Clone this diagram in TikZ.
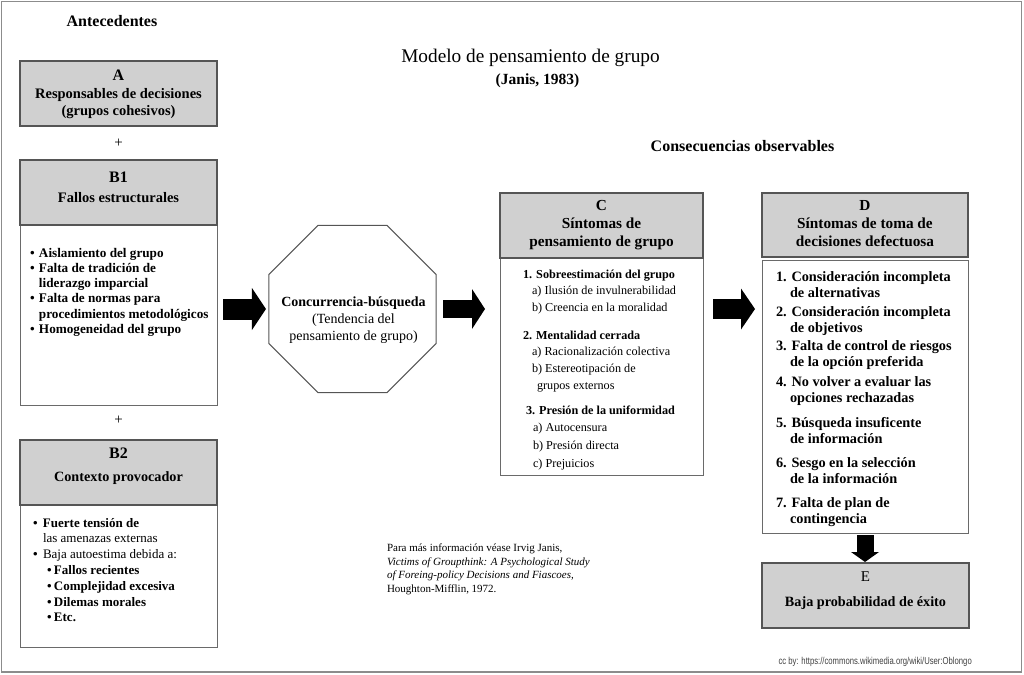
\documentclass[tikz,border=0pt]{standalone}
\usepackage{fontspec}
\setmainfont{Liberation Serif}
\newfontfamily\credfont{Liberation Sans}
\usetikzlibrary{shapes.geometric,arrows.meta}
\definecolor{hdrgrey}{HTML}{D0D0D0}
\definecolor{edgegrey}{HTML}{555555}
\definecolor{bodyedge}{HTML}{6A6A6A}
\definecolor{framegrey}{HTML}{8C8C8C}
\definecolor{credgrey}{HTML}{404040}
\newcommand{\fs}[2]{\fontsize{#1}{#2}\selectfont}
\newcommand{\ltab}[1]{\begin{tabular}[t]{@{}l@{}}#1\end{tabular}}
\newcommand{\ctab}[1]{\begin{tabular}[t]{@{}c@{}}#1\end{tabular}}
\newcommand{\bul}[1]{\makebox[#1pt][l]{\textbullet}}
\newcommand{\ind}[1]{\hspace*{#1pt}}
\begin{document}
\begin{tikzpicture}[x=1pt,y=-1pt,
  hdr/.style={draw=edgegrey, fill=hdrgrey, line width=1.2pt, inner sep=0pt, outer sep=0pt, anchor=north west},
  bodybox/.style={draw=bodyedge, fill=white, line width=1pt, inner sep=0pt, outer sep=0pt, anchor=north west},
  txt/.style={inner sep=0pt, outer sep=0pt, anchor=base west, text=black},
  ctxt/.style={inner sep=0pt, outer sep=0pt, anchor=base, text=black},
  barrow/.style n args={3}{draw=black, line width=#1, -{Triangle[length=#3, width=#2, line width=0pt]}},
]
\useasboundingbox (0,0) rectangle (1024,674);
\draw[framegrey, line width=1.5pt] (1.5,1.5) rectangle (1021.5,672);

% titles
\node[ctxt, font=\fs{19.3}{22}] (title) at (530.5,63) {Modelo de pensamiento de grupo};
\node[ctxt, font=\bfseries\fs{15.5}{18}] (janis) at (537.5,85) {(Janis, 1983)};
\node[ctxt, font=\bfseries\fs{16}{18}] (ante) at (112,27) {Antecedentes};
\node[ctxt, font=\bfseries\fs{16}{18}] (cons) at (742.5,151) {Consecuencias observables};

% A
\node[hdr, minimum width=197pt, minimum height=65pt] (A) at (20,61) {};
\node[ctxt, font=\bfseries\fs{14.5}{17.3}] (At) at (118.5,81) {\ctab{{\fs{16}{17.3}A}\\Responsables de decisiones\\(grupos cohesivos)}};
\node[inner sep=0pt, font=\fs{15}{17}] (plus1) at (118.5,143) {+};

% B1
\node[bodybox, minimum width=197pt, minimum height=180pt] (B1b) at (20,225) {};
\node[hdr, minimum width=197pt, minimum height=65pt] (B1h) at (20,160) {};
\node[ctxt, font=\bfseries\fs{14.5}{20}] (B1t) at (118.5,182.5) {\ctab{{\fs{16}{20}B1}\\Fallos estructurales}};
\node[txt, font=\bfseries\fs{13.2}{15.3}] (B1l) at (30,257) {\ltab{\bul{9}Aislamiento del grupo\\
\bul{9}Falta de tradición de\\
\ind{9}liderazgo imparcial\\
\bul{9}Falta de normas para\\
\ind{9}procedimientos metodológicos\\
\bul{9}Homogeneidad del grupo}};
\node[inner sep=0pt, font=\fs{15}{17}] (plus2) at (118.5,420) {+};

% B2
\node[bodybox, minimum width=197pt, minimum height=142pt] (B2b) at (20,505) {};
\node[hdr, minimum width=197pt, minimum height=65pt] (B2h) at (20,440) {};
\node[ctxt, font=\bfseries\fs{14.2}{23}] (B2t) at (118.5,458.5) {\ctab{{\fs{16}{23}B2}\\Contexto provocador}};
\node[txt, font=\bfseries\fs{13}{15.8}] (B2l) at (33,527) {\ltab{\bul{10}Fuerte tensión de\\
\ind{10}{\mdseries las amenazas externas}\\
\bul{10}{\mdseries Baja autoestima debida a:}\\
\ind{14}\bul{7}Fallos recientes\\
\ind{14}\bul{7}Complejidad excesiva\\
\ind{14}\bul{7}Dilemas morales\\
\ind{14}\bul{7}Etc.}};

% octagon
\node[draw=edgegrey, line width=1pt, regular polygon, regular polygon sides=8, minimum size=180.8pt, inner sep=0pt, outer sep=0pt] (oct) at (352.5,309) {};
\node[ctxt, font=\fs{14}{17}] (octt) at (353.5,306.5) {\ctab{\textbf{Concurrencia-búsqueda}\\(Tendencia del\\pensamiento de grupo)}};

% C
\node[bodybox, minimum width=203pt, minimum height=217pt] (Cb) at (500,258) {};
\node[hdr, minimum width=203pt, minimum height=65pt] (Ch) at (500,193) {};
\node[ctxt, font=\bfseries\fs{15.3}{18}] (Ct) at (601.5,210) {\ctab{C\\Síntomas de\\pensamiento de grupo}};
\node[txt, font=\fs{12.2}{16.5}] (C1) at (523,278) {\ltab{\textbf{1. Sobreestimación del grupo}\\
\ind{9}a) Ilusión de invulnerabilidad\\
\ind{9}b) Creencia en la moralidad}};
\node[txt, font=\fs{12.2}{16.7}] (C2) at (523,339) {\ltab{\textbf{2. Mentalidad cerrada}\\
\ind{9}a) Racionalización colectiva\\
\ind{9}b) Estereotipación de\\
\ind{14}grupos externos}};
\node[txt, font=\fs{12.2}{17.7}] (C3) at (526,414) {\ltab{\textbf{3. Presión de la uniformidad}\\
\ind{7}a) Autocensura\\
\ind{7}b) Presión directa\\
\ind{7}c) Prejuicios}};

% D
\node[hdr, minimum width=206pt, minimum height=64pt] (Dh) at (762,193) {};
\node[ctxt, font=\bfseries\fs{15.3}{18}] (Dt) at (865,210) {\ctab{D\\Síntomas de toma de\\decisiones defectuosa}};
\node[bodybox, minimum width=206pt, minimum height=273pt] (Db) at (762,260) {};
\node[txt, font=\bfseries\fs{14.3}{16.3}] (Dl) at (776,281.5) {\ltab{1. Consideración incompleta\\
\ind{14}de alternativas\\[2.4pt]
2. Consideración incompleta\\
\ind{14}de objetivos\\[1.4pt]
3. Falta de control de riesgos\\
\ind{14}de la opción preferida\\[3.4pt]
4. No volver a evaluar las\\
\ind{14}opciones rechazadas\\[8.4pt]
5. Búsqueda insuficente\\
\ind{14}de información\\[7.4pt]
6. Sesgo en la selección\\
\ind{14}de la información\\[7.4pt]
7. Falta de plan de\\
\ind{14}contingencia}};

% E
\node[hdr, minimum width=207pt, minimum height=65pt] (E) at (762,563) {};
\node[ctxt, font=\bfseries\fs{14.2}{25.5}] (Et) at (865.5,581) {\ctab{{\mdseries\fs{15}{25.5}E}\\Baja probabilidad de éxito}};

% arrows
\draw[barrow={21pt}{42pt}{14pt}, shorten <=6pt, shorten >=3pt] (B1b.east |- oct.west) -- (oct.west);
\draw[barrow={18pt}{40pt}{13pt}, shorten <=7pt, shorten >=15pt] (oct.east) -- (Cb.west |- oct.east);
\draw[barrow={20pt}{41pt}{14pt}, shorten <=10pt, shorten >=7pt] (Cb.east |- oct.east) -- (Db.west |- oct.east);
\draw[barrow={17pt}{28pt}{10pt}, shorten <=2pt, shorten >=1pt] (Db.south) -- (Db.south |- E.north);

% citation
\node[txt, font=\fs{11}{13.7}] (cite) at (387,551.5) {\ltab{Para más información véase Irvig Janis,\\
\textit{Victims of Groupthink: A Psychological Study}\\
\textit{of Foreing-policy Decisions and Fiascoes,}\\
Houghton-Mifflin, 1972.}};

% credit
\node[inner sep=0pt, anchor=base east, text=credgrey, font=\credfont\fs{10}{12}] (cred) at (972,664.5) {\scalebox{0.77}[1]{cc by: https://commons.wikimedia.org/wiki/User:Oblongo}};
\end{tikzpicture}
\end{document}
